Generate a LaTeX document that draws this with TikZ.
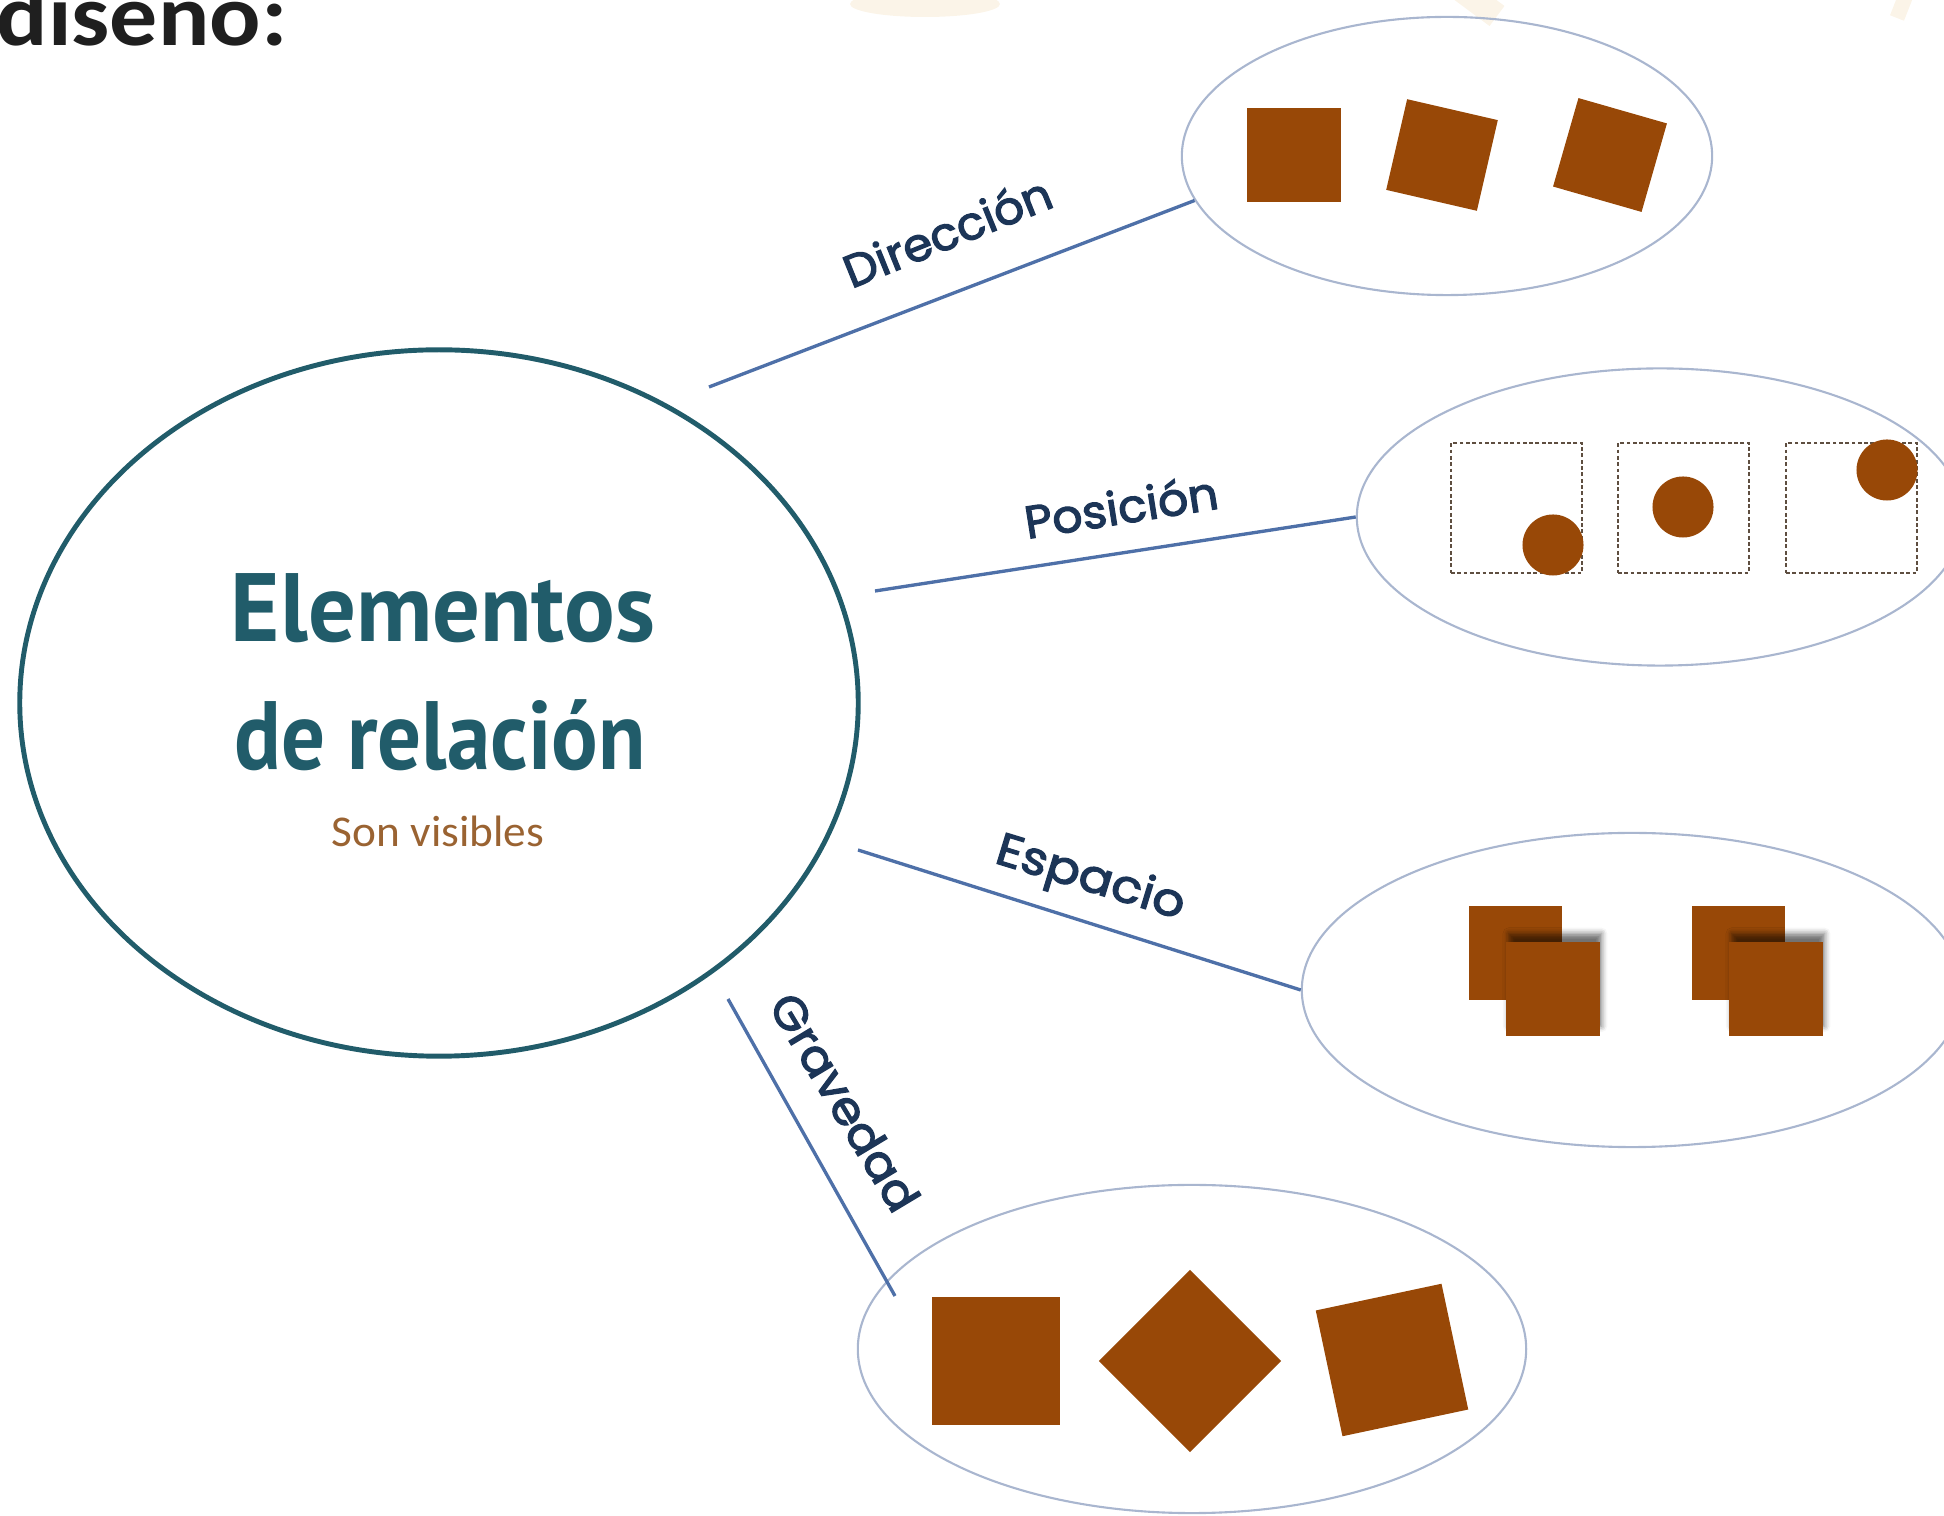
\documentclass[tikz,border=0pt]{standalone}
\usepackage{fontspec}
\usepackage{graphicx}
\setmainfont{Carlito}
\newfontfamily\bigfont{PT Sans}
\newfontfamily\labfont[FakeBold=2.6]{Poppins}
\usetikzlibrary{shapes.geometric,shadows.blur,fadings}
\definecolor{brn}{HTML}{984807}
\definecolor{coreclr}{HTML}{215C6A}
\definecolor{lineclr}{HTML}{4E70A8}
\definecolor{ellclr}{HTML}{A9B6CF}
\definecolor{labclr}{HTML}{1C3557}
\definecolor{sonclr}{HTML}{9A6332}
\definecolor{beigeclr}{HTML}{FBF4E8}
\definecolor{dashclr}{HTML}{5E4E40}
\begin{document}
\begin{tikzpicture}[x=0.01cm,y=-0.01cm,
  blob/.style={fill=brn, draw=none, inner sep=0pt, minimum size=#1},
  ell/.style={draw=ellclr, line width=0.6pt, ellipse, inner sep=0pt},
  conn/.style={draw=lineclr, line width=0.95pt},
  dbox/.style={draw=dashclr, line width=0.5pt, dash pattern=on 1.1pt off 0.7pt, inner sep=0pt, minimum width=1.31cm, minimum height=1.30cm},
  dot/.style={fill=brn, circle, inner sep=0pt, minimum size=0.61cm},
  lab/.style={text=labclr, inner sep=0pt, font=\labfont\fontsize{13}{15}\selectfont},
  bigtxt/.style={text=coreclr, inner sep=0pt, anchor=base, font=\bigfont\bfseries\fontsize{27.6}{30}\selectfont},
  shd/.style={blur shadow={shadow xshift=0.6pt, shadow yshift=2.6pt, shadow blur radius=1.6pt, shadow opacity=55}}
]
\useasboundingbox (0,0) rectangle (1944,1516);
\clip (0,0) rectangle (1944,1516);

% faint background decoration
\fill[beigeclr] (925,4) ellipse [x radius=75, y radius=13];
\draw[beigeclr, line width=0.25cm] (1462,-10) -- (1497,16);
\draw[beigeclr, line width=0.15cm] (1908,-10) -- (1897,18);

% title
\node[anchor=base west, inner sep=0pt, text=black!88, font=\bfseries\fontsize{25}{25}\selectfont] (title) at (-4,46) {\scalebox{1.09}[1]{diseño:}};

% core
\node[draw=coreclr, line width=1.4pt, ellipse, minimum width=8.38cm, minimum height=7.06cm, inner sep=0pt] (core) at (439,703) {};
\node[bigtxt] (t1) at (443,642) {\resizebox{4.24cm}{\height}{Elementos}};
\node[bigtxt] (t2) at (440,770) {\resizebox{4.11cm}{\height}{de relación}};
\node[anchor=base, inner sep=0pt, text=sonclr, font=\fontsize{12.5}{14}\selectfont] (t3) at (438,847) {\resizebox{2.12cm}{\height}{Son visibles}};

% outer ellipses
\node[ell, minimum width=5.30cm, minimum height=2.78cm] (dir) at (1447,156) {};
\node[ell, minimum width=6.06cm, minimum height=2.97cm] (pos) at (1660,517) {};
\node[ell, minimum width=6.60cm, minimum height=3.14cm] (esp) at (1632,990) {};
\node[ell, minimum width=6.68cm, minimum height=3.28cm] (gra) at (1192,1349) {};

% connectors
\coordinate (s1) at (709,387);
\coordinate (s2) at (875,591);
\coordinate (s3) at (858,850);
\coordinate (s4) at (728,999);
\coordinate (e4) at (895,1296);
\draw[conn] (s1) -- (dir.190);
\draw[conn] (s2) -- (pos.180);
\draw[conn] (s3) -- (esp.180);
\draw[conn] (s4) -- (e4);

% labels
\node[lab, rotate=22] (l1) at (947,231) {\resizebox{2.2cm}{\height}{Dirección}};
\node[lab, rotate=9] (l2) at (1121,506) {\resizebox{1.95cm}{\height}{Posición}};
\node[lab, rotate=-17] (l3) at (1090,880) {\resizebox{1.95cm}{\height}{Espacio}};
\node[lab, rotate=-59] (l4) at (845,1102) {\resizebox{2.45cm}{\height}{Gravedad}};

% Direccion shapes
\node[blob=0.93cm] (a1) at (1294,155) {};
\node[blob=0.93cm, rotate=-13] (a2) at (1442,155) {};
\node[blob=0.92cm, rotate=-16] (a3) at (1610,155) {};

% Posicion shapes
\node[dbox] (b1) at (1516.5,508) {};
\node[dbox] (b2) at (1683.5,508) {};
\node[dbox] (b3) at (1851.5,508) {};
\node[dot] (c1) at (1553,545) {};
\node[dot] (c2) at (1683,507) {};
\node[dot] (c3) at (1887,470) {};

% Espacio shapes
\node[blob=0.93cm] (p1) at (1515.5,953) {};
\node[blob=0.93cm, shd] (q1) at (1553,989) {};
\node[blob=0.93cm] (p2) at (1738.5,953) {};
\node[blob=0.93cm, shd] (q2) at (1776,989) {};

% Gravedad shapes
\node[blob=1.28cm] (g1) at (996,1361) {};
\node[blob=1.287cm, rotate=45] (g2) at (1190,1361) {};
\node[blob=1.285cm, rotate=12] (g3) at (1392,1360) {};
\end{tikzpicture}
\end{document}
